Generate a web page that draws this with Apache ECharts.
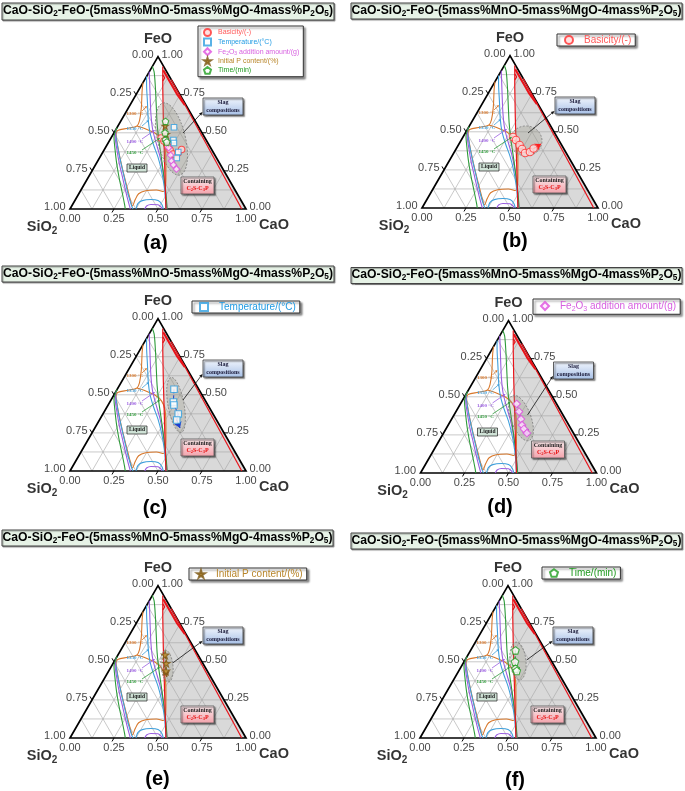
<!DOCTYPE html>
<html><head><meta charset="utf-8">
<script src="https://cdn.jsdelivr.net/npm/echarts@6/dist/echarts.min.js"></script>
<style>html,body{margin:0;padding:0;background:#fff}#c{width:685px;height:791px}</style>
</head><body><div id="c"></div>
<script>
// ===== DATA (mass fractions [CaO, FeO]; SiO2 = 1 - CaO - FeO) =====
const tickValues = [0, 0.25, 0.5, 0.75, 1];
const tickLabels = ['0.00', '0.25', '0.50', '0.75', '1.00'];
const gridSteps = [0.125, 0.25, 0.375, 0.5, 0.625, 0.75, 0.875];

const basicity = [[0.284,0.466],[0.311,0.446],[0.348,0.413],[0.375,0.387],[0.405,0.361],[0.430,0.367],[0.439,0.390]];
const basicityArrowEnd = [0.467,0.420];
const temperature = [[0.323,0.536],[0.361,0.453],[0.374,0.433],[0.428,0.374],[0.439,0.335]];
const temperatureArrowEnd = [0.484,0.282];
const fe2o3 = [[0.320,0.453],[0.359,0.402],[0.394,0.354],[0.419,0.315],[0.443,0.289],[0.474,0.262]];
const fe2o3ArrowEnd = [0.492,0.245];
const initialP = [[0.268,0.545],[0.302,0.490],[0.325,0.440]];
const initialPArrowEnd = [0.350,0.400];
const time = [[0.255,0.575],[0.290,0.500],[0.315,0.455],[0.330,0.440]];
const timeArrowEnd = [0.345,0.420];

// isotherms
const iso1300 = [[0.000,0.83],[0.020,0.78],[0.075,0.66],[0.105,0.58],[0.108,0.545],[0.065,0.53],[0.013,0.515],[0.017,0.49],[0.060,0.42],[0.120,0.33],[0.190,0.23],[0.255,0.14],[0.320,0.05],[0.345,0.02],[0.340,0.06],[0.340,0.10],[0.370,0.12],[0.428,0.125],[0.473,0.115],[0.445,0.20],[0.395,0.30],[0.340,0.40],[0.290,0.46],[0.230,0.50],[0.155,0.53],[0.108,0.545]];
const iso1350Right = [[0.000,0.87],[0.025,0.82],[0.090,0.70],[0.155,0.58],[0.205,0.50],[0.265,0.42],[0.330,0.34],[0.395,0.25],[0.460,0.15],[0.507,0.07],[0.545,0]];
const iso1350Left = [[0.000,0.515],[0.027,0.47],[0.072,0.40],[0.140,0.30],[0.210,0.20],[0.280,0.10],[0.340,0.02],[0.358,0]];
const iso1350Arch = [[0.375,0],[0.368,0.035],[0.383,0.055],[0.429,0.062],[0.473,0.055],[0.507,0.03],[0.530,0]];
const iso1400Right = [[0.000,0.90],[0.027,0.85],[0.080,0.75],[0.150,0.62],[0.210,0.52],[0.275,0.43],[0.335,0.35],[0.403,0.25],[0.465,0.15],[0.517,0.06],[0.550,0]];
const iso1400Left = [[0.000,0.525],[0.022,0.47],[0.065,0.40],[0.130,0.30],[0.200,0.20],[0.270,0.10],[0.328,0.02],[0.343,0]];
const iso1400Arch = [[0.425,0],[0.425,0.02],[0.445,0.03],[0.486,0.028],[0.512,0.012],[0.522,0]];
const iso1450Right = [[0.000,0.935],[0.028,0.90],[0.085,0.80],[0.150,0.68],[0.215,0.56],[0.280,0.45],[0.355,0.33],[0.435,0.20],[0.495,0.10],[0.552,0]];
const iso1450Left = [[0.000,0.535],[0.015,0.47],[0.055,0.40],[0.115,0.30],[0.180,0.20],[0.248,0.10],[0.295,0.03],[0.314,0]];

// C2S-C3P field
const grayRegion = [[0.0595,0.935],[0.065,0.935],[1,0],[0.545,0],[0.440,0.20],[0.335,0.40],[0.230,0.60],[0.127,0.80]];
const redBoundary = [[0.0595,0.935],[0.127,0.80],[0.230,0.60],[0.335,0.40],[0.440,0.20],[0.545,0]];
const redHook = [[0.087,0.88],[0.108,0.86],[0.107,0.84]];
const redThick = [[0.075,0.91],[0.145,0.84],[0.1475,0.845],[0.185,0.80],[0.1875,0.805],[0.235,0.75],[0.2375,0.755],[0.312,0.682]];
const redEdge = [[0.150,0.85],[0.976,0]];

const isoLabels = ['1300 °C', '1350 °C', '1400 °C', '1450 °C'];

// ===== STYLE / LAYOUT =====
const SANS = "'Liberation Sans', Arial, sans-serif";
const SERIF = "'Liberation Serif', 'Times New Roman', serif";
const SQ = Math.sqrt(3) / 2;
const W = 176, H = W * SQ;
const C_OR = '#d8782c', C_BL = '#3f9fdb', C_PU = '#9a5de0', C_GR = '#2e9b3a', C_RED = '#e8141b';
const isoColors = [C_OR, C_BL, C_PU, C_GR];
const isotherms = [
  {color: C_OR, curves: [iso1300]},
  {color: C_BL, curves: [iso1350Right, iso1350Left, iso1350Arch]},
  {color: C_PU, curves: [iso1400Right, iso1400Left, iso1400Arch]},
  {color: C_GR, curves: [iso1450Right, iso1450Left]}
];
const STAR = 'path://M50,0 L61,35 L98,35 L68,57 L79,91 L50,70 L21,91 L32,57 L2,35 L39,35 Z';
const PENT = 'path://M50,0 L97.5,34.5 L79.4,90.5 L20.6,90.5 L2.5,34.5 Z';
const defs = {
  basicity:    {name:'Basicity/(-)', data: basicity, end: basicityArrowEnd, symbol:'circle', stroke:'#ff3030', fill:'#ffd9d9', text:'#ff5a5a', line:'#ff2020'},
  temperature: {name:'Temperature/(°C)', data: temperature, end: temperatureArrowEnd, symbol:'rect', stroke:'#2f9fe0', fill:'#ffffff', text:'#1f9ae3', line:'#1d3fcf'},
  fe2o3:       {name:'Fe2O3 addition amount/(g)', data: fe2o3, end: fe2o3ArrowEnd, symbol:'diamond', stroke:'#dd4fdd', fill:'#ffe8ff', text:'#d760e0', line:'#b83ac8'},
  initialP:    {name:'Initial P content/(%)', data: initialP, end: initialPArrowEnd, symbol: STAR, stroke:'#7a5614', fill:'#c8962e', text:'#b8862b', line:'#8b5a1a'},
  time:        {name:'Time/(min)', data: time, end: timeArrowEnd, symbol: PENT, stroke:'#1f9e1f', fill:'#ffffff', text:'#1f9a1f', line:'#1a8a1a'}
};

const LEG1 = {fs:10, iw:8, ih:8, gap:0, pad:[1,4,1,7], tpad:6};
const panels = [
  {L:70, B:209, keys:['basicity','temperature','fe2o3','initialP','time'], trend:false, ms:6.5,
   ell:{c:[0.347,0.459], rx:14, ry:37, rot:0.23}, arrowFrom:[113,-76],
   legend:Object.assign({left:198, top:26}, {fs:7, iw:7, ih:7, gap:0.6, pad:[2,4,2,5], tpad:2}), title:[2,3,332,17], letter:[155.5,243]},
  {L:422, B:208, keys:['basicity'], trend:true, ms:7.5,
   ell:{c:[0.371,0.44], rx:16, ry:15, rot:0}, arrowFrom:[106,-75],
   legend:Object.assign({left:557, top:34}, LEG1), title:[351,3,331,16], letter:[515,241]},
  {L:70, B:471, keys:['temperature'], trend:true, ms:7.5,
   ell:{c:[0.386,0.433], rx:8, ry:28, rot:0.18}, arrowFrom:[113,-71],
   legend:Object.assign({left:192, top:301}, LEG1), title:[2,266,332,16], letter:[155,508]},
  {L:420.5, B:473, keys:['fe2o3'], trend:true, ms:7.5,
   ell:{c:[0.39,0.361], rx:10, ry:24, rot:0.35}, arrowFrom:[107,-58],
   legend:Object.assign({left:533, top:299}, LEG1, {pad:[2,4,2,7]}), title:[351,267.5,331,16], letter:[500,507]},
  {L:70, B:738, keys:['initialP'], trend:true, ms:7.5,
   ell:{c:[0.315,0.472], rx:6, ry:16, rot:0.1}, arrowFrom:[102.7,-75],
   legend:Object.assign({left:189, top:568}, LEG1), title:[2,530,331,16], letter:[157.5,779]},
  {L:420, B:738, keys:['time'], trend:true, ms:7.5,
   ell:{c:[0.304,0.505], rx:8, ry:19, rot:0.1}, arrowFrom:[106.7,-78],
   legend:Object.assign({left:542, top:567}, LEG1), title:[351,533,331,16], letter:[515,780]}
];

// ternary [CaO, FeO] -> cartesian (SiO2 corner at origin)
function tern(p) { return [p[0] + p[1] / 2, p[1] * SQ]; }

function renderFrame(prm, api) {
  const P = q => api.coord(tern(q));
  const ch = [];
  gridSteps.forEach(v => {
    [[[0, v], [1 - v, v]], [[v, 0], [v, 1 - v]], [[1 - v, 0], [0, 1 - v]]].forEach(seg => {
      const a = P(seg[0]), b = P(seg[1]);
      ch.push({type:'line', shape:{x1:a[0], y1:a[1], x2:b[0], y2:b[1]}, style:{stroke:'#a5a5a5', lineWidth:0.6}});
    });
  });
  [0.25, 0.5, 0.75].forEach(v => {
    [[[v, 0], [v, 0.06]], [[0, 1 - v], [0.06, 1 - v - 0.06]], [[1 - v, v], [1 - v - 0.06, v]]].forEach(seg => {
      const e = P(seg[0]), i = P(seg[1]);
      const dx = e[0] - i[0], dy = e[1] - i[1], l = Math.hypot(dx, dy);
      ch.push({type:'line', shape:{x1:e[0], y1:e[1], x2:e[0] + dx / l * 4, y2:e[1] + dy / l * 4}, style:{stroke:'#000', lineWidth:1}});
    });
  });
  ch.push({type:'polygon', shape:{points:[P([0, 1]), P([0, 0]), P([1, 0])]}, style:{fill:'none', stroke:'#000', lineWidth:1.7}});
  return {type:'group', children: ch};
}

function arrowEls(x1, y1, x2, y2, color, lw, hl, hw) {
  const a = Math.atan2(y2 - y1, x2 - x1);
  const bx = x2 - hl * Math.cos(a), by = y2 - hl * Math.sin(a);
  const nx = -Math.sin(a) * hw, ny = Math.cos(a) * hw;
  return [
    {type:'line', silent:true, z:20, shape:{x1, y1, x2:bx, y2:by}, style:{stroke:color, lineWidth:lw}},
    {type:'polygon', silent:true, z:20, shape:{points:[[x2, y2], [bx + nx, by + ny], [bx - nx, by - ny]]}, style:{fill:color}}
  ];
}

const grids = [], xAxes = [], yAxes = [], series = [], legends = [], graphics = [];
const subRich = (fs, pad) => ({fontSize: fs, fontWeight:'bold', fontFamily: SANS, padding:[pad, 0, 0, 0]});

panels.forEach((p, i) => {
  grids.push({left: p.L, top: p.B - H, width: W, height: H});
  xAxes.push({type:'value', gridIndex:i, min:0, max:1, show:false});
  yAxes.push({type:'value', gridIndex:i, min:0, max:SQ, show:false});
  const ax = {xAxisIndex:i, yAxisIndex:i, silent:true};

  series.push({type:'custom', ...ax, z:1, data:[[0, 0]],
    renderItem: (prm, api) => ({type:'polygon', shape:{points: grayRegion.map(q => api.coord(tern(q)))}, style:{fill:'#d9d9d9'}})});
  series.push({type:'custom', ...ax, z:2, data:[[0, 0]], renderItem: renderFrame});

  isotherms.forEach(iso => iso.curves.forEach(c => series.push({type:'line', ...ax, z:3, data: c.map(tern),
    symbol:'none', smooth:0.3, lineStyle:{color: iso.color, width:1.1}})));
  [[redBoundary, 1.2], [redHook, 1.2], [redThick, 2.2], [redEdge, 1.2]].forEach(([c, w]) =>
    series.push({type:'line', ...ax, z:3, data: c.map(tern), symbol:'none', lineStyle:{color: C_RED, width: w}}));

  series.push({type:'custom', ...ax, z:4, data:[[0, 0]], renderItem: (prm, api) => {
    const c = api.coord(tern(p.ell.c));
    return {type:'ellipse', x:c[0], y:c[1], rotation:p.ell.rot, shape:{cx:0, cy:0, rx:p.ell.rx, ry:p.ell.ry},
      style:{fill:'rgba(135,135,115,0.25)', stroke:'#808080', lineWidth:0.8, lineDash:[2, 1.5]}};
  }});

  // tick labels and axis names
  const lab = (pos, txt, extra) => ({value: tern(pos), label: Object.assign({show:true, formatter: txt, color:'#111', fontSize:11, fontFamily:SANS}, extra)});
  const tl = [];
  tickValues.forEach((v, k) => {
    tl.push(lab([v, 0], tickLabels[k], {position:'bottom', distance:4}));
    tl.push(lab([0, 1 - v], tickLabels[k], {position:'left', distance:4, offset:[0, -2]}));
    tl.push(lab([1 - v, v], tickLabels[k], {position:'right', distance:3, offset:[0, -2]}));
  });
  tl.push(lab([0, 1], 'FeO', {position:'top', distance:10, fontSize:14.5, fontWeight:'bold', color:'#000'}));
  tl.push(lab([0, 0], 'SiO{s|2}', {position:'inside', offset:[-28, 18], fontSize:14.5, fontWeight:'bold', color:'#000', rich:{s: subRich(10, 8)}}));
  tl.push(lab([1, 0], 'CaO', {position:'inside', offset:[28, 16], fontSize:14.5, fontWeight:'bold', color:'#000'}));
  series.push({type:'scatter', ...ax, z:9, symbolSize:1, itemStyle:{color:'rgba(0,0,0,0)'}, data: tl});

  // trend arrows
  if (p.trend) p.keys.forEach(k => {
    const d = defs[k];
    const pts = d.data.concat([d.end]).map(tern);
    series.push({type:'line', ...ax, z:5, data: pts, symbol:'none', lineStyle:{color: d.line, width:1, type:'dashed'},
      markLine:{silent:true, symbol:['none', 'arrow'], symbolSize:6, label:{show:false},
        lineStyle:{color: d.line, width:1, type:'solid'},
        data:[[{coord: tern(d.data[d.data.length - 1])}, {coord: tern(d.end)}]]}});
  });
  // data points
  p.keys.forEach(k => {
    const d = defs[k];
    series.push({type:'scatter', ...ax, z:6, name: d.name, data: d.data.map(tern), symbol: d.symbol,
      symbolSize: (d.symbol === 'rect') ? p.ms - 1 : p.ms,
      itemStyle:{color: d.fill, borderColor: d.stroke, borderWidth:1.1}});
  });

  const lg = p.legend;
  legends.push({left: lg.left, top: lg.top, orient:'vertical', selectedMode:false,
    data: p.keys.map(k => ({name: defs[k].name, textStyle:{color: defs[k].text}})),
    itemWidth: lg.iw, itemHeight: lg.ih, itemGap: lg.gap, padding: lg.pad,
    formatter: n => n.replace('Fe2O3', 'Fe{s|2}O{s|3}'),
    textStyle:{fontSize: lg.fs, fontFamily: SANS, padding:[0, 0, 0, lg.tpad],
      rich:{s:{fontSize: lg.fs * 0.7, color:'#d760e0', padding:[lg.fs * 0.55, 0, 0, 0]}}},
    backgroundColor:'#fff', borderColor:'#333', borderWidth:1,
    shadowBlur:2, shadowOffsetX:2, shadowOffsetY:2, shadowColor:'rgba(0,0,0,0.45)'});

  // title box
  const t = p.title;
  graphics.push({type:'rect', silent:true, shape:{x:t[0], y:t[1], width:t[2], height:t[3]},
    style:{fill:'#e6f2e6', stroke:'#444', lineWidth:1, shadowBlur:1, shadowOffsetX:1, shadowOffsetY:1, shadowColor:'rgba(0,0,0,0.35)'}});
  graphics.push({type:'text', silent:true, x:t[0] + t[2] / 2, y:t[1] + t[3] / 2 - 0.5,
    style:{text:'CaO-SiO{s|2}-FeO-(5mass%MnO-5mass%MgO-4mass%P{s|2}O{s|5})', fontFamily:SANS, fontWeight:'bold', fontSize:12.2, fill:'#000',
      align:'center', verticalAlign:'middle', rich:{s: subRich(8.2, 6)}}});
  // panel letter
  graphics.push({type:'text', silent:true, x:p.letter[0], y:p.letter[1],
    style:{text:'(' + 'abcdef'[i] + ')', fontFamily:SANS, fontWeight:'bold', fontSize:20, fill:'#000', align:'center', verticalAlign:'middle'}});

  const L = p.L, B = p.B;
  // slag compositions box
  graphics.push({type:'rect', silent:true, z:10, shape:{x:L + 133, y:B - 111, width:40, height:17},
    style:{fill:new echarts.graphic.LinearGradient(0, 0, 0, 1, [{offset:0, color:'#f3f7fe'}, {offset:1, color:'#a6bfe6'}]),
      stroke:'#3a3a3a', lineWidth:0.8, shadowBlur:1.5, shadowOffsetX:1.5, shadowOffsetY:1.5, shadowColor:'rgba(0,0,0,0.5)'}});
  graphics.push({type:'text', silent:true, z:11, x:L + 153, y:B - 102.5,
    style:{text:'Slag\ncompositions', fontFamily:SERIF, fontWeight:'bold', fontSize:6, lineHeight:7.5, fill:'#1a1a3a', align:'center', verticalAlign:'middle'}});
  graphics.push(...arrowEls(L + p.arrowFrom[0], B + p.arrowFrom[1], L + 132.5, B - 97, '#111', 0.8, 3.5, 1.6));
  // containing box
  graphics.push({type:'rect', silent:true, z:10, shape:{x:L + 111, y:B - 32, width:33, height:17},
    style:{fill:new echarts.graphic.LinearGradient(0, 0, 0, 1, [{offset:0, color:'#fdecee'}, {offset:1, color:'#f2a2ab'}]),
      stroke:'#555', lineWidth:0.8, shadowBlur:1.5, shadowOffsetX:1.5, shadowOffsetY:1.5, shadowColor:'rgba(0,0,0,0.5)'}});
  graphics.push({type:'text', silent:true, z:11, x:L + 127.5, y:B - 27.5,
    style:{text:'Containing', fontFamily:SERIF, fontWeight:'bold', fontSize:6, fill:'#222', align:'center', verticalAlign:'middle'}});
  graphics.push({type:'text', silent:true, z:11, x:L + 127.5, y:B - 20.5,
    style:{text:'C{s|2}S-C{s|3}P', fontFamily:SERIF, fontWeight:'bold', fontSize:6, fill:'#e81010', align:'center', verticalAlign:'middle',
      rich:{s:{fontSize:4.5, fontFamily:SERIF, fontWeight:'bold', fill:'#e81010', padding:[3, 0, 0, 0]}}}});
  // liquid box
  graphics.push({type:'rect', silent:true, z:10, shape:{x:L + 57, y:B - 45, width:20, height:8},
    style:{fill:'#cfe2d6', stroke:'#222', lineWidth:0.7}});
  graphics.push({type:'text', silent:true, z:11, x:L + 67, y:B - 41,
    style:{text:'Liquid', fontFamily:SERIF, fontWeight:'bold', fontSize:5.5, fill:'#222', align:'center', verticalAlign:'middle'}});
  // isotherm labels
  const ly = [-95, -80, -67, -56];
  const arr = [[[72, -98], [77, -103]], [[72, -83], [79, -89]], [[72, -70], [85, -79]], [[72, -59], [90, -71]]];
  isoLabels.forEach((s, k) => {
    graphics.push({type:'text', silent:true, z:11, x:L + 65, y:B + ly[k],
      style:{text:s, fontFamily:SERIF, fontWeight:'bold', fontSize:5, fill:isoColors[k], align:'center', verticalAlign:'middle'}});
    graphics.push(...arrowEls(L + arr[k][0][0], B + arr[k][0][1], L + arr[k][1][0], B + arr[k][1][1], isoColors[k], 0.8, 2.5, 1.3));
  });
});

const chart = echarts.init(document.getElementById('c'), null, {renderer:'canvas', devicePixelRatio:1});
chart.setOption({
  animation:false, backgroundColor:'#fff',
  grid: grids, xAxis: xAxes, yAxis: yAxes, series, legend: legends, graphic: graphics
});
</script></body></html>
